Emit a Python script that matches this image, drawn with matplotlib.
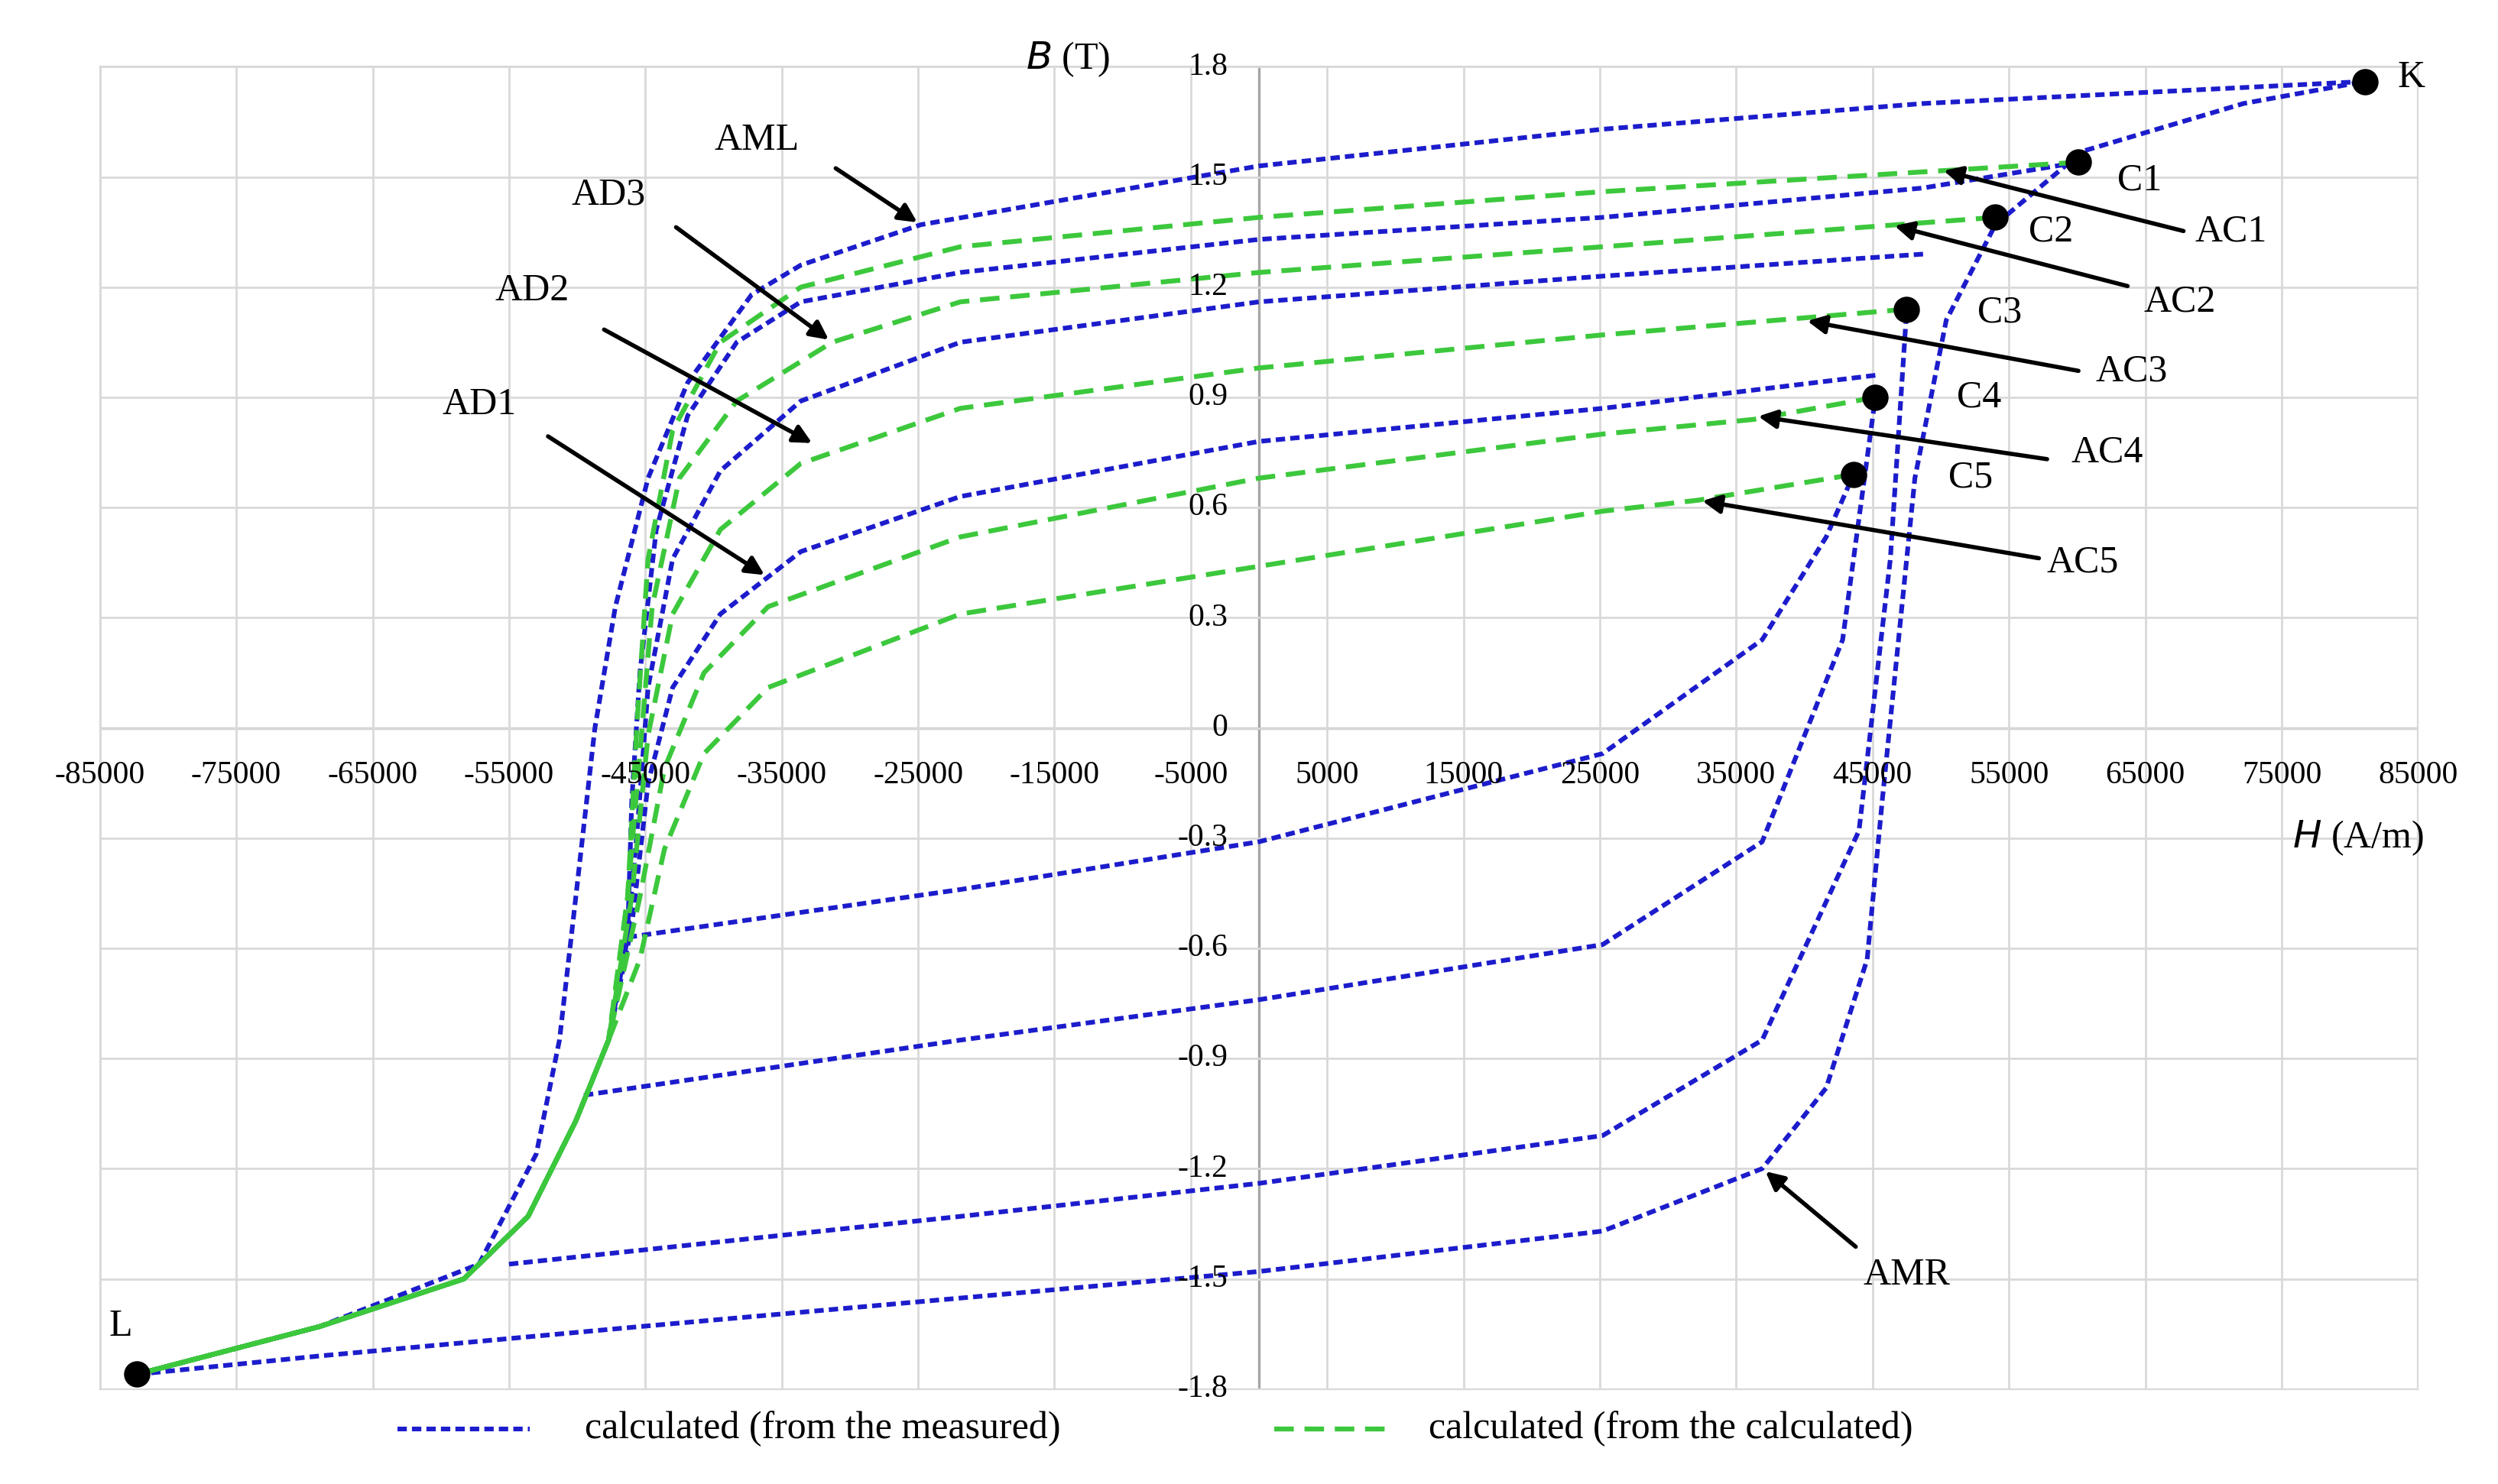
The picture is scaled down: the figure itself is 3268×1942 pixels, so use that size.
import numpy as np
import matplotlib.pyplot as plt

plt.rcParams['font.family'] = ['Liberation Serif', 'DejaVu Serif']

# shared lower-left tail down to L
tail_H = [-47700, -50100, -53600, -58300, -68900, -82300]
tail_B = [-0.85, -1.07, -1.33, -1.50, -1.63, -1.76]

# major loop, descending (AML) and ascending (AMR)
aml_H = [81100, 48700, 25200, 0, -24800, -33600, -37200, -41900, -44800, -47200, -48700,
         -50100, -51300, -53000, -57200, -68900, -82300]
aml_B = [1.76, 1.70, 1.63, 1.53, 1.37, 1.26, 1.18, 0.94, 0.68, 0.33, 0.0,
         -0.46, -0.85, -1.16, -1.46, -1.63, -1.76]
amr_H = [-82300, -68900, -45400, 0, 25200, 36900, 41600, 44600, 45700, 46900, 48100,
         50400, 54000, 60400, 72200, 81100]
amr_B = [-1.76, -1.71, -1.63, -1.48, -1.37, -1.20, -0.98, -0.63, -0.20, 0.24, 0.68,
         1.11, 1.37, 1.57, 1.70, 1.76]

# blue descending minor branches
bd1_H = [60100, 48700, 25200, 0, -21900, -33600, -38300, -41900, -44200, -45400, -46000, -46300]
bd1_B = [1.54, 1.47, 1.39, 1.33, 1.24, 1.16, 1.05, 0.85, 0.54, 0.15, -0.20, -0.57]
bd2_H = [48700, 25200, 0, -21900, -33600, -39500, -43000, -44800, -45600, -46300]
bd2_B = [1.29, 1.23, 1.16, 1.05, 0.89, 0.70, 0.46, 0.11, -0.28, -0.57]
bd3_H = [45200, 25200, 0, -21900, -33600, -39500, -43000, -44800, -46000]
bd3_B = [0.96, 0.87, 0.78, 0.63, 0.48, 0.31, 0.11, -0.15, -0.54]

# blue ascending minor branches
ba1_H = [-46300, -21900, 0, 25200, 36900, 41600, 43600]
ba1_B = [-0.57, -0.44, -0.31, -0.07, 0.24, 0.52, 0.69]
ba2_H = [-49500, -21900, 0, 25200, 36900, 42800, 45200]
ba2_B = [-1.0, -0.85, -0.74, -0.59, -0.31, 0.24, 0.90]
ba3_H = [-55000, -21900, 0, 25200, 36900, 44000, 46300, 47500]
ba3_B = [-1.46, -1.33, -1.24, -1.11, -0.85, -0.28, 0.46, 1.14]

# green descending branches (from the calculated)
g1_H = [60100, 25200, 0, -21900, -33600, -39500, -43000, -44800, -45600, -46300, -47200]
g1_B = [1.54, 1.46, 1.39, 1.31, 1.20, 1.05, 0.81, 0.46, 0.02, -0.46, -0.72]
g2_H = [54000, 25200, 0, -21900, -31300, -38300, -42500, -44500, -45400, -46300]
g2_B = [1.39, 1.31, 1.24, 1.16, 1.05, 0.89, 0.68, 0.33, -0.07, -0.46]
g3_H = [47500, 25200, 0, -21900, -33600, -39500, -43000, -44800, -46000]
g3_B = [1.14, 1.07, 0.98, 0.87, 0.72, 0.54, 0.31, -0.02, -0.46]
g4_H = [45200, 36300, 25200, 0, -21900, -36000, -40700, -43600, -45400]
g4_B = [0.90, 0.84, 0.80, 0.68, 0.52, 0.33, 0.15, -0.11, -0.46]
g5_H = [43600, 32200, 25200, 0, -21900, -36000, -40700, -43600, -45400]
g5_B = [0.69, 0.62, 0.59, 0.44, 0.31, 0.11, -0.07, -0.33, -0.63]

# marked points
pt_names = ['K', 'L', 'C1', 'C2', 'C3', 'C4', 'C5']
pt_H = [81100, -82300, 60100, 54000, 47500, 45200, 43600]
pt_B = [1.76, -1.76, 1.54, 1.39, 1.14, 0.90, 0.69]
pt_lab_H = [84500, -83500, 64600, 58100, 54300, 52800, 52200]
pt_lab_B = [1.77, -1.63, 1.49, 1.35, 1.13, 0.90, 0.68]

# arrow labels: text pos, arrow tail, arrow tip
arr_names = ['AML', 'AD3', 'AD2', 'AD1', 'AC1', 'AC2', 'AC3', 'AC4', 'AC5', 'AMR']
arr_txt = [(-36800, 1.60), (-47700, 1.45), (-53300, 1.19), (-57200, 0.88), (71300, 1.35),
           (67500, 1.16), (64000, 0.97), (62200, 0.75), (60400, 0.45), (47500, -1.49)]
arr_tail = [(-31300, 1.53), (-43000, 1.37), (-48300, 1.09), (-52400, 0.80), (68100, 1.35),
            (64000, 1.20), (60400, 0.97), (58100, 0.73), (57500, 0.46), (44000, -1.42)]
arr_tip = [(-24800, 1.37), (-31300, 1.05), (-32500, 0.77), (-36000, 0.41), (49900, 1.52),
           (46300, 1.37), (39900, 1.11), (36300, 0.85), (32200, 0.62), (36900, -1.20)]

x_ticks = list(range(-85000, 85001, 10000))
y_ticks = [-1.8, -1.5, -1.2, -0.9, -0.6, -0.3, 0, 0.3, 0.6, 0.9, 1.2, 1.5, 1.8]

blue = '#1c1ccc'
green = '#3cc83c'
bstyle = dict(color=blue, lw=2.2, dashes=(2.0, 1.1))
gstyle = dict(color=green, lw=2.3, dashes=(4.0, 2.2))

fig = plt.figure(figsize=(16.34, 9.71), dpi=200)
ax = fig.add_axes([0.04, 0.064, 0.928, 0.891])
ax.set_xlim(-85000, 85000)
ax.set_ylim(-1.8, 1.8)
ax.set_xticks(x_ticks)
ax.set_yticks(y_ticks)
ax.grid(True, color='#d9d9d9', lw=1.0)
ax.tick_params(length=0, labelbottom=False, labelleft=False)
for s in ax.spines.values():
    s.set_color('#d9d9d9')
ax.axvline(0, color='#a6a6a6', lw=1.2, zorder=1)
ax.axhline(0, color='#a6a6a6', lw=1.2, zorder=1)

# tick labels at center axes
for x in x_ticks:
    ax.text(x, -0.13, str(x), ha='center', va='center', fontsize=15)
for y in y_ticks:
    lab = '0' if y == 0 else f'{y:g}'
    ax.text(-2300, y, lab, ha='right', va='center', fontsize=15)

ax.plot(aml_H, aml_B, **bstyle)
ax.plot(amr_H, amr_B, **bstyle)
for h, b in [(bd1_H, bd1_B), (bd2_H, bd2_B), (bd3_H, bd3_B)]:
    ax.plot(h + tail_H, b + tail_B, **bstyle)
for h, b in [(ba1_H, ba1_B), (ba2_H, ba2_B), (ba3_H, ba3_B)]:
    ax.plot(h, b, **bstyle)
for h, b in [(g1_H, g1_B), (g2_H, g2_B), (g3_H, g3_B), (g4_H, g4_B), (g5_H, g5_B)]:
    ax.plot(h + tail_H, b + tail_B, **gstyle)

ax.scatter(pt_H, pt_B, s=130, color='black', zorder=5, clip_on=False)
for n, x, y in zip(pt_names, pt_lab_H, pt_lab_B):
    ax.text(x, y, n, fontsize=18, ha='center', va='center')

for n, t, a, p in zip(arr_names, arr_txt, arr_tail, arr_tip):
    ax.annotate('', xy=p, xytext=a,
                arrowprops=dict(arrowstyle='-|>', color='black', lw=2, mutation_scale=18))
    ax.text(t[0], t[1], n, fontsize=18, ha='center', va='center')

ax.text(-14000, 1.82, r'$B$ (T)', fontsize=18, ha='center', va='center')
ax.text(80600, -0.3, r'$H$ (A/m)', fontsize=18, ha='center', va='center')

# legend
fig.lines.append(plt.Line2D([0.159, 0.212], [0.037, 0.037], transform=fig.transFigure, **bstyle))
fig.text(0.234, 0.037, 'calculated (from the measured)', fontsize=18, va='center')
fig.lines.append(plt.Line2D([0.51, 0.558], [0.037, 0.037], transform=fig.transFigure, **gstyle))
fig.text(0.572, 0.037, 'calculated (from the calculated)', fontsize=18, va='center')

fig.savefig('out.png')
